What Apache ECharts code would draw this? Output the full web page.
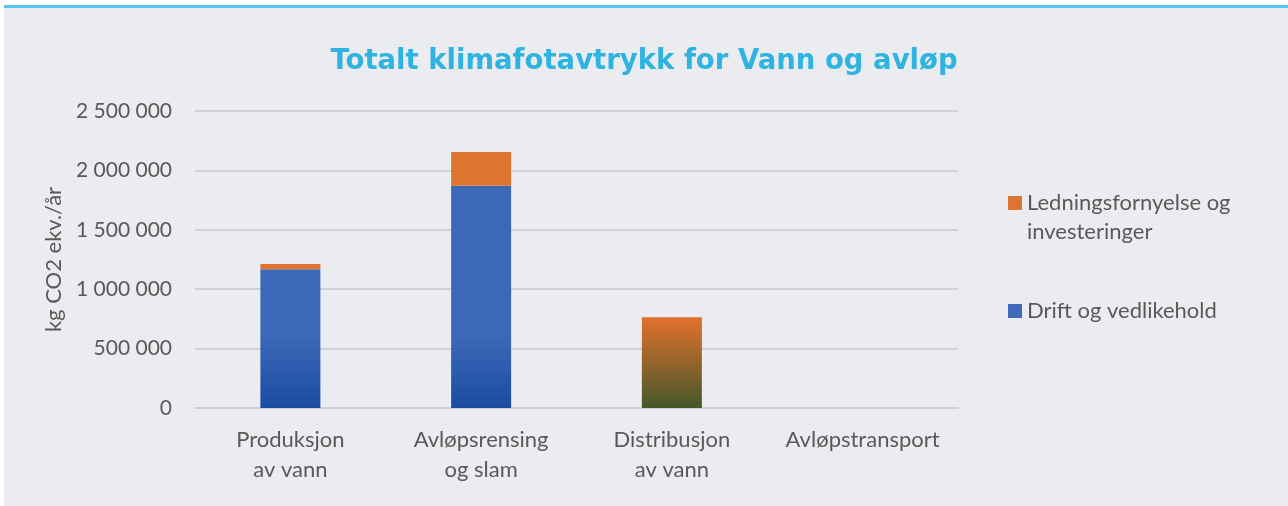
<!DOCTYPE html>
<html>
<head>
<meta charset="utf-8">
<script src="https://cdn.jsdelivr.net/npm/echarts@6/dist/echarts.min.js"></script>
<style>
  html, body { margin: 0; padding: 0; background: #fff; }
  #chart { width: 1288px; height: 506px; }
</style>
</head>
<body>
<div id="chart"></div>
<script>
const categories = ['Produksjon\nav vann', 'Avløpsrensing\nog slam', 'Distribusjon\nav vann', 'Avløpstransport']
const drift = [1167000, 1871000, 0, 0]
const ledning = [45000, 284000, 763000, 0]
const yTicks = [0, 500000, 1000000, 1500000, 2000000, 2500000]

const font = 'Lato, "Open Sans", sans-serif'
const grey = '#595959'
const blue = '#3e6ab9'
const orange = '#dd7430'

const chart = echarts.init(document.getElementById('chart'))

// gradient in pixel space so both blue bars darken from the same height
const blueFill = {
  type: 'linear', x: 0, y: 337, x2: 0, y2: 408, global: true,
  colorStops: [{ offset: 0, color: '#3d68b8' }, { offset: 1, color: '#1a4ca1' }],
}
const mixFill = {
  type: 'linear', x: 0, y: 0, x2: 0, y2: 1,
  colorStops: [{ offset: 0, color: '#e2712d' }, { offset: 0.5, color: '#95632c' }, { offset: 1, color: '#45572a' }],
}

const fmt = v => String(v).replace(/\B(?=(\d{3})+(?!\d))/g, ' ')

chart.setOption({
  animation: false,
  backgroundColor: '#fff',
  graphic: [
    { type: 'rect', z: -100, silent: true, shape: { x: 4, y: 8, width: 1284, height: 498 }, style: { fill: '#ebecf0' } },
    { type: 'rect', z: -100, silent: true, shape: { x: 4, y: 5, width: 1284, height: 3 }, style: { fill: '#55c6ee' } },
  ],
  title: {
    text: 'Totalt klimafotavtrykk for Vann og avløp',
    left: 'center', top: 48, padding: 0,
    textStyle: { fontFamily: '"DejaVu Sans", sans-serif', fontSize: 27.5, fontWeight: 'bold', color: '#2fb3e0' },
  },
  legend: [
    {
      orient: 'vertical', left: 1008, top: 188, padding: 0,
      itemWidth: 14, itemHeight: 42,
      data: [{ name: 'Ledningsfornyelse og investeringer', icon: 'path://M0,0H14V14H0Z M0,42H0.01', itemStyle: { color: orange, borderWidth: 0 } }],
      formatter: n => n.replace(' investeringer', '\ninvesteringer'),
      textStyle: { fontFamily: font, fontSize: 22, lineHeight: 29, color: grey },
    },
    {
      orient: 'vertical', left: 1008, top: 300, padding: 0,
      itemWidth: 14, itemHeight: 14,
      data: [{ name: 'Drift og vedlikehold', icon: 'rect', itemStyle: { color: blue, borderWidth: 0 } }],
      textStyle: { fontFamily: font, fontSize: 22, color: grey },
    },
  ],
  grid: { left: 195, right: 330, top: 111, bottom: 98 },
  xAxis: {
    type: 'category',
    data: categories,
    axisLine: { lineStyle: { color: '#d0d1d5', width: 2 } },
    axisTick: { show: false },
    axisLabel: { interval: 0, fontFamily: font, fontSize: 22, lineHeight: 30, color: grey, margin: 17 },
  },
  yAxis: {
    type: 'value',
    min: yTicks[0], max: yTicks[yTicks.length - 1], interval: yTicks[1] - yTicks[0],
    name: 'kg CO2 ekv./år',
    nameLocation: 'middle', nameGap: 130,
    nameTextStyle: { fontFamily: font, fontSize: 22, color: grey },
    axisLine: { show: false },
    axisTick: { show: false },
    splitLine: { lineStyle: { color: '#d0d1d5', width: 2 } },
    axisLabel: { fontFamily: font, fontSize: 21, color: grey, margin: 23, formatter: fmt },
  },
  series: [
    {
      name: 'Drift og vedlikehold', type: 'bar', stack: 'total', barWidth: 60,
      data: drift,
      itemStyle: { color: blueFill },
    },
    {
      name: 'Ledningsfornyelse og investeringer', type: 'bar', stack: 'total', barWidth: 60,
      data: ledning.map((v, i) => (i === 2 ? { value: v, itemStyle: { color: mixFill } } : v)),
      itemStyle: { color: orange },
    },
  ],
})
</script>
</body>
</html>
